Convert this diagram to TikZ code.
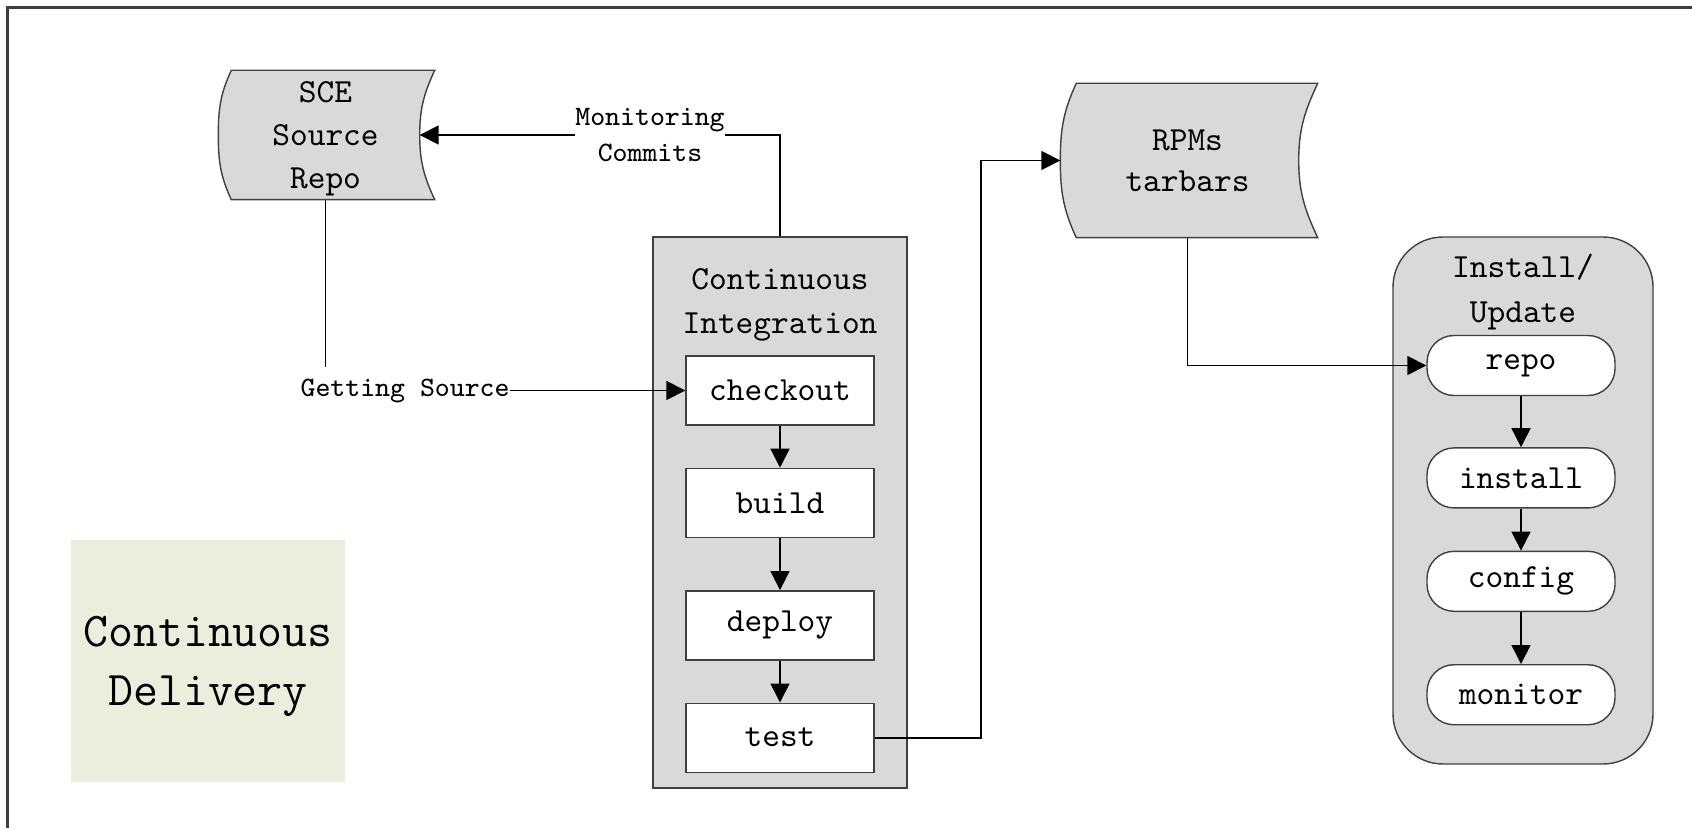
\documentclass[tikz,border=0pt]{standalone}
\usepackage{tikz}
\usetikzlibrary{arrows.meta,positioning,calc,backgrounds}
\definecolor{boxgray}{RGB}{217,217,217}
\definecolor{edgegray}{RGB}{64,64,64}
\definecolor{cdgreen}{RGB}{233,238,221}

% stored-data outline round a node: #1 node, #2 left bulge, #3 right overhang
\newcommand{\storeshape}[3]{%
  \draw[edgegray, fill=boxgray] (#1.north west) -- ($(#1.north east)+(#3,0)$)
    to[out=245,in=90] (#1.east) to[out=270,in=115] ($(#1.south east)+(#3,0)$)
    -- (#1.south west) to[out=115,in=270] ($(#1.west)+(-#2,0)$) coordinate (#1-bulge)
    to[out=90,in=245] (#1.north west) -- cycle;}

\begin{document}
\begin{tikzpicture}[
    flow/.style={line width=0.45pt},
    stage/.style={draw=edgegray, fill=boxgray, inner sep=0pt},
    stepbox/.style={draw=edgegray, fill=white, minimum width=1.88cm, minimum height=0.69cm,
                    inner sep=0pt, font=\ttfamily\fontsize{9.6}{12}\selectfont},
    pill/.style={stepbox, rounded corners=0.27cm, minimum height=0.6cm},
    title/.style={align=center, inner sep=0pt, text depth=0pt, font=\ttfamily\fontsize{9.6}{12.3}\selectfont},
    lbl/.style={align=center, inner sep=0pt, font=\ttfamily\fontsize{8}{10.2}\selectfont},
    >={Triangle[length=0.19cm,width=0.19cm]}
]
\useasboundingbox (0,0) rectangle (16.92,8.28);
\draw[line width=0.7pt, black!75] (0.075,0) -- (0.075,8.205) -- (16.92,8.205);

\node[title, minimum width=1.87cm, minimum height=1.28cm] (sce) at (3.255,6.93) {SCE\\Source\\Repo};
\node[title, minimum width=2.21cm, minimum height=1.53cm, font=\ttfamily\fontsize{9.6}{11.7}\selectfont] (rpm) at (11.875,6.675) {RPMs\\tarbars};
\begin{scope}[on background layer]
\storeshape{sce}{0.13}{0.15}
\storeshape{rpm}{0.16}{0.19}
\end{scope}

\node[fill=cdgreen, minimum width=2.74cm, minimum height=2.42cm, align=center, text depth=0pt,
      font=\ttfamily\fontsize{13.8}{16.8}\selectfont] (cd) at (2.08,1.67) {Continuous\\Delivery};

% continuous integration
\node[stage, minimum width=2.54cm, minimum height=5.51cm] (ci) at (7.80,3.155) {};
\node[title] (cititle) at (7.80,5.27) {Continuous\\Integration};
\node[stepbox] (checkout) at (7.80,4.375) {checkout};
\node[stepbox, below=0.42cm of checkout] (build) {build};
\node[stepbox, below=0.52cm of build] (deploy) {deploy};
\node[stepbox, below=0.42cm of deploy] (test) {test};
\foreach \a/\b in {checkout/build, build/deploy, deploy/test}
  \draw[flow,->] (\a) -- (\b);

% install / update
\node[stage, rounded corners=0.5cm, minimum width=2.60cm, minimum height=5.27cm] (inst) at (15.23,3.275) {};
\node[title, font=\ttfamily\fontsize{9.6}{12.8}\selectfont] (insttitle) at (15.23,5.40) {Install/\\Update};
\node[pill] (repo) at (15.21,4.625) {repo};
\node[pill, below=0.51cm of repo] (install) {install};
\node[pill, below=0.42cm of install] (config) {config};
\node[pill, below=0.52cm of config] (monitor) {monitor};
\foreach \a/\b in {repo/install, install/config, config/monitor}
  \draw[flow,->] (\a) -- (\b);

% connectors
\node[lbl] (mon) at (6.50,6.93) {Monitoring\\Commits};
\draw[flow] (ci.north) |- (mon.east);
\draw[flow,->] (mon.west) -- (sce.east);

\node[lbl, inner ysep=3pt, left=1.75cm of checkout] (gs) {Getting Source};
\draw[flow] (sce.south) -- (sce.south |- gs.north);
\draw[flow,->] (gs.east) -- (checkout.west);

\draw[flow,->] (test.east) -- ++(1.06,0) |- (rpm-bulge);
\draw[flow,->] (rpm.south) |- (repo.west);
\end{tikzpicture}
\end{document}
